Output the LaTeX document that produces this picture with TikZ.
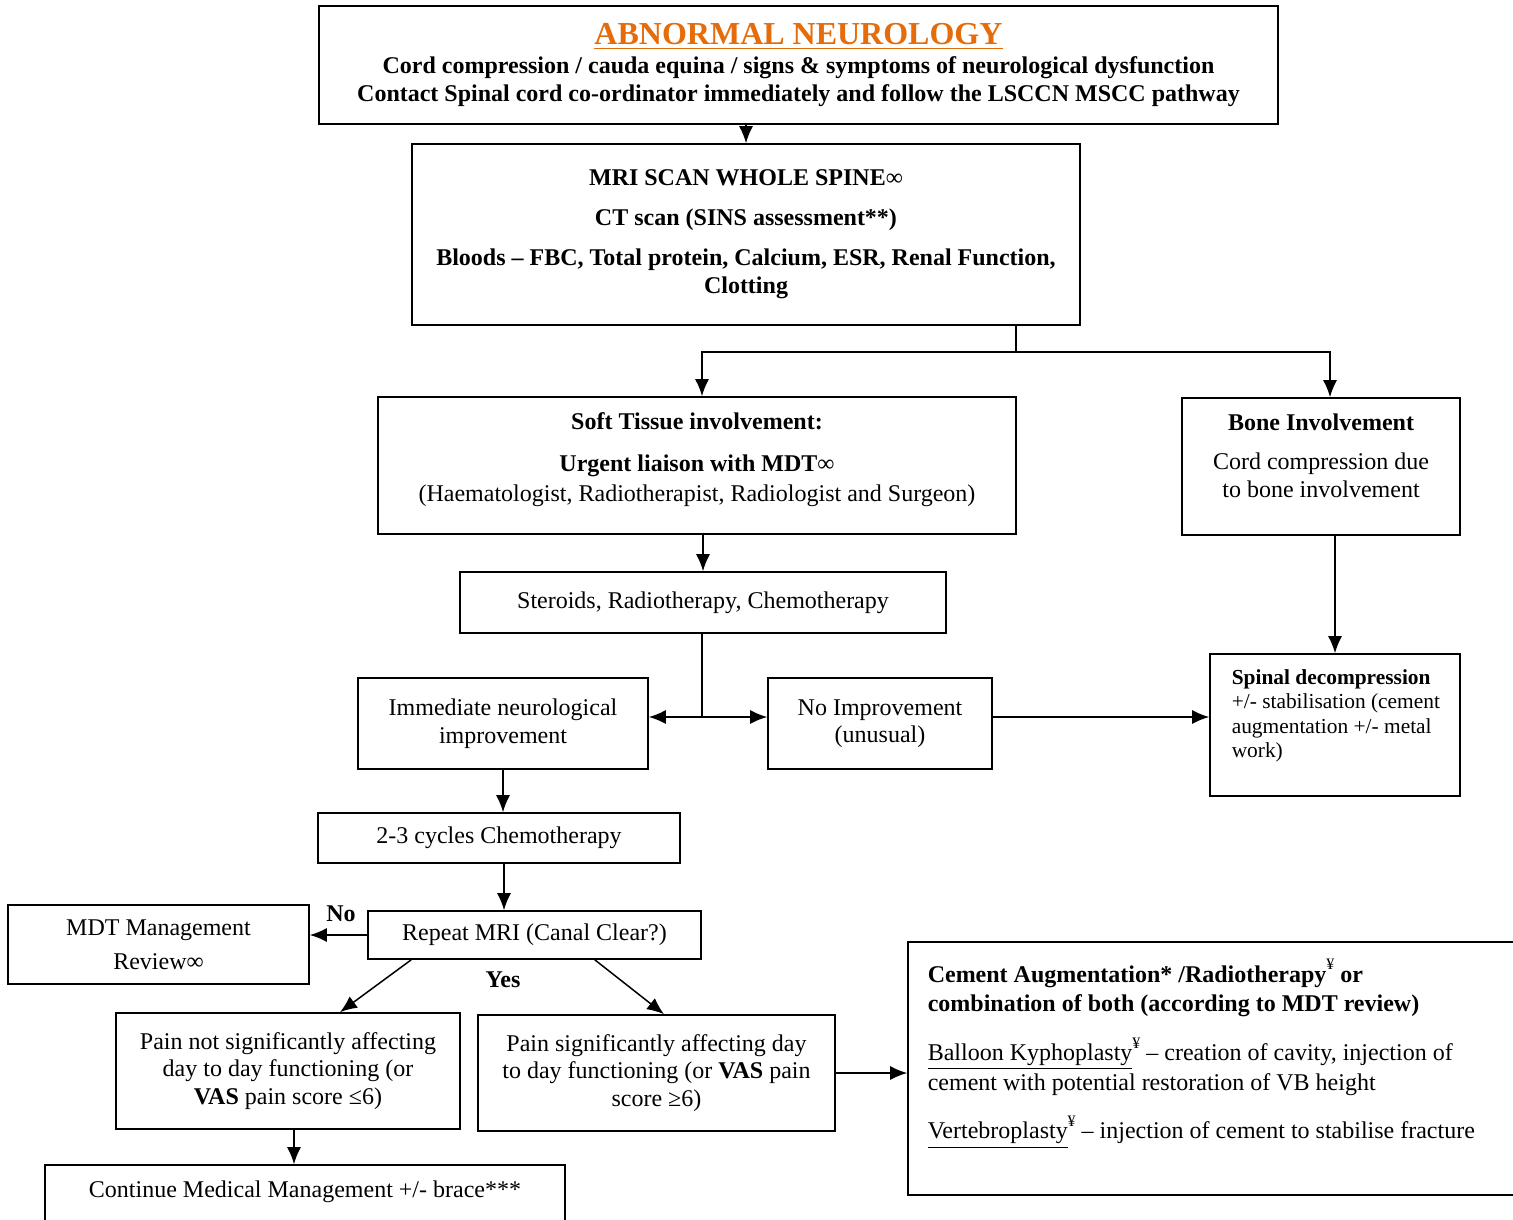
\documentclass[tikz,border=0pt]{standalone}
\usepackage{fontspec}
\setmainfont{Liberation Serif}
\usetikzlibrary{positioning,calc,arrows.meta}
\definecolor{titleorange}{RGB}{228,108,10}
\newcommand{\yen}{\raisebox{1.1ex}{\footnotesize ¥}}

\begin{document}
\begin{tikzpicture}[x=0.5pt,y=-0.5pt,line width=0.75pt,>={Latex[length=8.5pt,width=7pt]},
  every node/.style={font=\fontsize{12}{13.8}\selectfont},
  box/.style={draw,line width=0.8pt,inner sep=0pt,align=center},
  txt/.style={inner sep=0pt},
  lab/.style={inner sep=0pt,font=\fontsize{12}{13.8}\selectfont\bfseries}]
  \useasboundingbox (0,0) rectangle (1513,1219);
  % boxes
  \node[box,minimum width=479.5pt,minimum height=59pt] (n00) at (798.5,65) {{\fontsize{16}{18}\selectfont\bfseries\color{titleorange}\underline{ABNORMAL NEUROLOGY}}\\[0.5pt] \textbf{Cord compression / cauda equina / signs \& symptoms of neurological dysfunction}\\ \textbf{Contact Spinal cord co-ordinator immediately and follow the LSCCN MSCC pathway}};
  \node[box,minimum width=334pt,minimum height=90.5pt] (n01) at (746,234.5) {\textbf{MRI SCAN WHOLE SPINE}∞\\[6.2pt] \textbf{CT scan (SINS assessment**)}\\[6.2pt] \textbf{Bloods – FBC, Total protein, Calcium, ESR, Renal Function,}\\ \textbf{Clotting}};
  \node[box,minimum width=319pt,minimum height=68.5pt] (n02) at (697,465.5) {};
  \node[txt,anchor=base] (t02) at (697,429) {\begin{tabular}[t]{@{}c@{}}\textbf{Soft Tissue involvement:}\\[7.5pt] \textbf{Urgent liaison with MDT}∞\\[1.2pt] (Haematologist, Radiotherapist, Radiologist and Surgeon)\end{tabular}};
  \node[box,minimum width=139pt,minimum height=68.5pt] (n03) at (1321,466.5) {};
  \node[txt,anchor=base] (t03) at (1321,430) {\begin{tabular}[t]{@{}c@{}}\textbf{Bone Involvement}\\[6pt] Cord compression due\\ to bone involvement\end{tabular}};
  \node[box,minimum width=243pt,minimum height=30.5pt] (n04) at (703,602.5) {Steroids, Radiotherapy, Chemotherapy};
  \node[box,minimum width=145pt,minimum height=45.5pt] (n05) at (503,723.5) {Immediate neurological\\ improvement};
  \node[box,minimum width=112pt,minimum height=45.5pt] (n06) at (880,723.5) {No Improvement\\ (unusual)};
  \node[box,minimum width=125pt,minimum height=71pt] (n07) at (1335,725) {};
  \node[txt,anchor=base west,font=\fontsize{10.7}{12.3}\selectfont] (t07) at (1231,684) {\begin{tabular}[t]{@{}l@{}}\textbf{Spinal decompression}\\ +/- stabilisation (cement\\ augmentation +/- metal\\ work)\end{tabular}};
  \node[box,minimum width=181pt,minimum height=25pt] (n08) at (499,838) {2-3 cycles Chemotherapy};
  \node[box,minimum width=166.5pt,minimum height=24pt] (n09) at (534.5,935) {Repeat MRI (Canal Clear?)};
  \node[box,minimum width=150.5pt,minimum height=39.5pt] (n10) at (158.5,944.5) {MDT Management\\[3pt] Review∞};
  \node[box,minimum width=172pt,minimum height=58pt] (n11) at (288,1071) {Pain not significantly affecting\\ day to day functioning (or\\ \textbf{VAS} pain score ≤6)};
  \node[box,minimum width=178.5pt,minimum height=58pt] (n12) at (656.5,1073) {Pain significantly affecting day\\ to day functioning (or \textbf{VAS} pain\\ score ≥6)};
  \node[box,minimum width=316pt,minimum height=126.5pt] (n13) at (1224,1068.5) {};
  \node[txt,anchor=base west] (t13) at (927,982) {\begin{tabular}[t]{@{}l@{}}\textbf{Cement Augmentation* /Radiotherapy}\yen\ \textbf{or}\\[1pt] \textbf{combination of both (according to MDT review)}\\[9pt] \underline{Balloon Kyphoplasty}\yen\ – creation of cavity, injection of\\[1pt] cement with potential restoration of VB height\\[9pt] \underline{Vertebroplasty}\yen\ – injection of cement to stabilise fracture\end{tabular}};
  \node[box,minimum width=260pt,minimum height=37.5pt] (n14) at (305,1202.5) {};
  \node[txt,anchor=base] (t14) at (305,1197) {Continue Medical Management +/- brace***};
  % labels
  \node[lab] (no) at (341,914) {No};
  \node[lab] (yes) at (503,980) {Yes};
  % split points
  \coordinate (s1) at (1016,352);
  \coordinate (s2) at (702,717);
  % connectors
  \draw[->] (n00.south -| n01.north) -- (n01.north);
  \draw (n01.south -| s1) -- (s1);
  \draw[->] (s1) -| ([xshift=2.5pt]n02.north);
  \draw[->] (s1) -| ([xshift=4.5pt]n03.north);
  \draw[->] (n02.south -| n04.north) -- (n04.north);
  \draw (n04.south -| s2) -- (s2);
  \draw[->] (s2) -- (s2 -| n05.east);
  \draw[->] (s2) -- (s2 -| n06.west);
  \draw[->] (s2 -| n06.east) -- (s2 -| n07.west);
  \draw[->] (n03.south -| n07.north) -- (n07.north);
  \draw[->] (n05.south) -- (n05.south |- n08.north);
  \draw[->] ([xshift=2.5pt]n08.south) -- ([xshift=2.5pt]n08.south |- n09.north);
  \draw[->] (n09.west) -- (n09.west -| n10.east);
  \draw[->] ([xshift=22pt]n09.south west) -- ([xshift=26pt]n11.north);
  \draw[->] ([xshift=-53.5pt]n09.south east) -- ([xshift=3.75pt]n12.north);
  \draw[->] (n12.east) -- (n12.east -| n13.west);
  \draw[->] ([xshift=3pt]n11.south) -- ([xshift=3pt]n11.south |- n14.north);
\end{tikzpicture}
\end{document}
